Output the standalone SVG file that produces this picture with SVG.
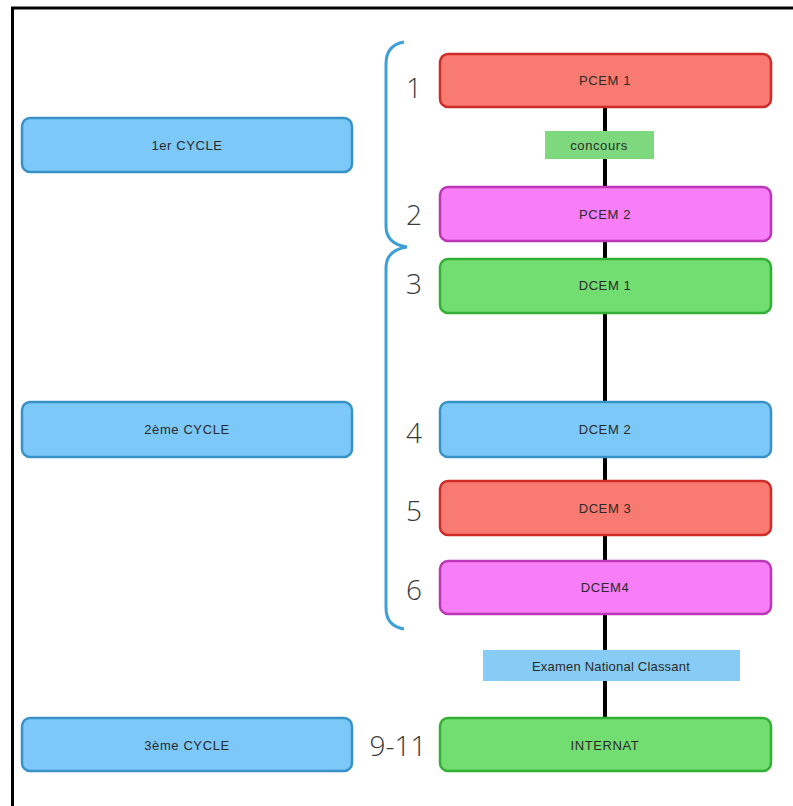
<svg xmlns="http://www.w3.org/2000/svg" width="793" height="806" viewBox="0 0 793 806">
<style>
.box{stroke-width:2.5}
.red{fill:#f97a70;stroke:#cf2b27}
.mag{fill:#f77ef6;stroke:#bd35b8}
.grn{fill:#72de72;stroke:#31b033}
.blu{fill:#7cc8f8;stroke:#3892c8}
.t{font-family:"Liberation Sans",Arial,sans-serif;font-size:13px;fill:#2a2a2a;text-anchor:middle;letter-spacing:0.6px}
.n{font-family:"Open Sans","Liberation Sans",Arial,sans-serif;font-size:28px;fill:#3a3a3a;text-anchor:middle;font-weight:300}
.brace{fill:none;stroke:#3d9fd6;stroke-width:3}
</style>
<rect width="793" height="806" fill="#fff"/>
<path d="M12.5,806 V8 H793" fill="none" stroke="#000" stroke-width="3"/>
<g id="connectors">
<line x1="605" y1="107" x2="605" y2="718" stroke="#000" stroke-width="4"/>
</g>
<g id="braces">
<path class="brace" d="M404,42 Q386,45 386,64 V226 Q386,244 407,247 Q386,250 386,268 V608 Q386,626 404,629"/>
</g>
<g id="pcem1"><rect class="box red" x="440" y="54" width="331" height="53" rx="8"/><text class="t" x="605" y="85">PCEM 1</text></g>
<g id="concours"><rect x="545" y="131" width="109" height="28" fill="#7ed87e"/><text class="t" x="599" y="150">concours</text></g>
<g id="pcem2"><rect class="box mag" x="440" y="187" width="331" height="54" rx="8"/><text class="t" x="605" y="219">PCEM 2</text></g>
<g id="dcem1"><rect class="box grn" x="440" y="259" width="331" height="54" rx="8"/><text class="t" x="605" y="290">DCEM 1</text></g>
<g id="dcem2"><rect class="box blu" x="440" y="402" width="331" height="55" rx="8"/><text class="t" x="605" y="434">DCEM 2</text></g>
<g id="dcem3"><rect class="box red" x="440" y="481" width="331" height="54" rx="8"/><text class="t" x="605" y="513">DCEM 3</text></g>
<g id="dcem4"><rect class="box mag" x="440" y="561" width="331" height="53" rx="8"/><text class="t" x="605" y="592">DCEM4</text></g>
<g id="enc"><rect x="483" y="650" width="257" height="31" fill="#86ccf5"/><text class="t" x="611" y="671" style="letter-spacing:0.2px">Examen National Classant</text></g>
<g id="internat"><rect class="box grn" x="440" y="718" width="331" height="53" rx="8"/><text class="t" x="605" y="750">INTERNAT</text></g>
<g id="cycle1"><rect class="box blu" x="22" y="118" width="330" height="54" rx="8"/><text class="t" x="187" y="150">1er CYCLE</text></g>
<g id="cycle2"><rect class="box blu" x="22" y="402" width="330" height="55" rx="8"/><text class="t" x="187" y="434">2ème CYCLE</text></g>
<g id="cycle3"><rect class="box blu" x="22" y="718" width="330" height="53" rx="8"/><text class="t" x="187" y="750">3ème CYCLE</text></g>
<g id="numbers">
<text class="n" x="414" y="98">1</text>
<text class="n" x="414" y="225">2</text>
<text class="n" x="414" y="294">3</text>
<text class="n" x="414" y="443">4</text>
<text class="n" x="414" y="521">5</text>
<text class="n" x="414" y="600">6</text>
<text class="n" x="398" y="756">9-11</text>
</g>
</svg>
